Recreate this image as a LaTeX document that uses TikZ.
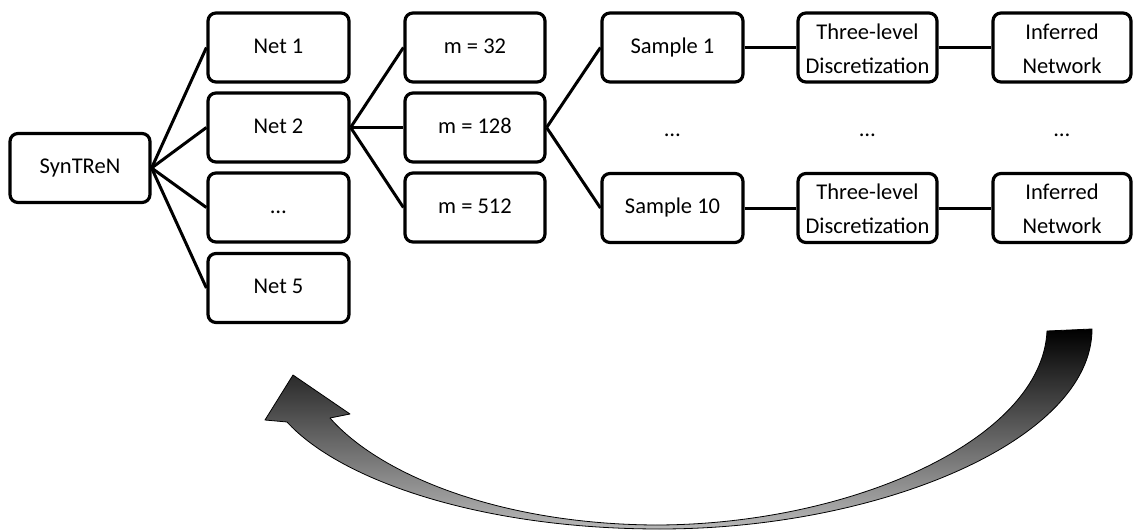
\documentclass[tikz,border=0pt]{standalone}
\usepackage{fontspec}
\setmainfont{Carlito}
\begin{document}
\begin{tikzpicture}[x=1pt,y=-1pt,
  txt/.style={inner sep=0pt, text height=0.64em+5pt, text depth=0pt,
    font=\fontsize{22.5}{34}\selectfont},
  box/.style={txt, draw, line width=3.2pt, rounded corners=8pt,
    minimum height=69pt},
  twoline/.style={align=center, text height=0.64em+45pt, text depth=0pt},
  link/.style={line width=3pt}]
\useasboundingbox (0,0) rectangle (1133,532);

% source generator
\node[box, minimum width=140pt] (syn) at (80,168) {SynTReN};

% networks
\node[box, minimum width=141pt] (n1) at (278.5,47.5)  {Net 1};
\node[box, minimum width=141pt] (n2) at (278.5,127.5) {Net 2};
\node[box, minimum width=141pt] (n3) at (278.5,207.5) {…};
\node[box, minimum width=141pt] (n5) at (278.5,288)   {Net 5};

% sample sizes
\node[box, minimum width=140pt] (m1) at (475,47.5)  {m = 32};
\node[box, minimum width=140pt] (m2) at (475,127.5) {m = 128};
\node[box, minimum width=140pt] (m3) at (475,207.5) {m = 512};

% samples, discretization, inference
\node[box, minimum width=141pt] (s1)  at (672.5,47.5) {Sample 1};
\node[box, minimum width=141pt] (s10) at (672.5,208)  {Sample 10};
\node[box, twoline, minimum width=139pt] (d1)  at (867.5,47.5) {Three-level\\Discretization};
\node[box, twoline, minimum width=139pt] (d10) at (867.5,208)  {Three-level\\Discretization};
\node[box, twoline, minimum width=138pt] (i1)  at (1062,47.5) {Inferred\\Network};
\node[box, twoline, minimum width=138pt] (i10) at (1062,208)  {Inferred\\Network};

\node[txt] (sdots) at (672.5,131) {…};
\node[txt] (ddots) at (867.5,131) {…};
\node[txt] (idots) at (1062,131)  {…};

% tree connectors
\foreach \t in {n1,n2,n3,n5} \draw[link] (syn.east) -- (\t.west);
\foreach \t in {m1,m2,m3} \draw[link] (n2.east) -- (\t.west);
\draw[link] (m2.east) -- (s1.west);
\draw[link] (m2.east) -- (s10.west);
\draw[link] (s1.east) -- (d1.west);
\draw[link] (d1.east) -- (i1.west);
\draw[link] (s10.east) -- (d10.west);
\draw[link] (d10.east) -- (i10.west);

% curved feedback arrow
\path[top color=black, bottom color=black!28, draw=black, line width=0.8pt, line join=round]
  (1047,331) -- (1092,329)
  .. controls (1092,440) and (880,529) .. (660,529)
  .. controls (480,529) and (340,480) .. (287,422)
  -- (265,420) -- (293,375) -- (350,414) -- (330,418)
  .. controls (380,475) and (500,524) .. (655,525)
  .. controls (850,525) and (1042,440) .. (1047,331) -- cycle;
\end{tikzpicture}
\end{document}
